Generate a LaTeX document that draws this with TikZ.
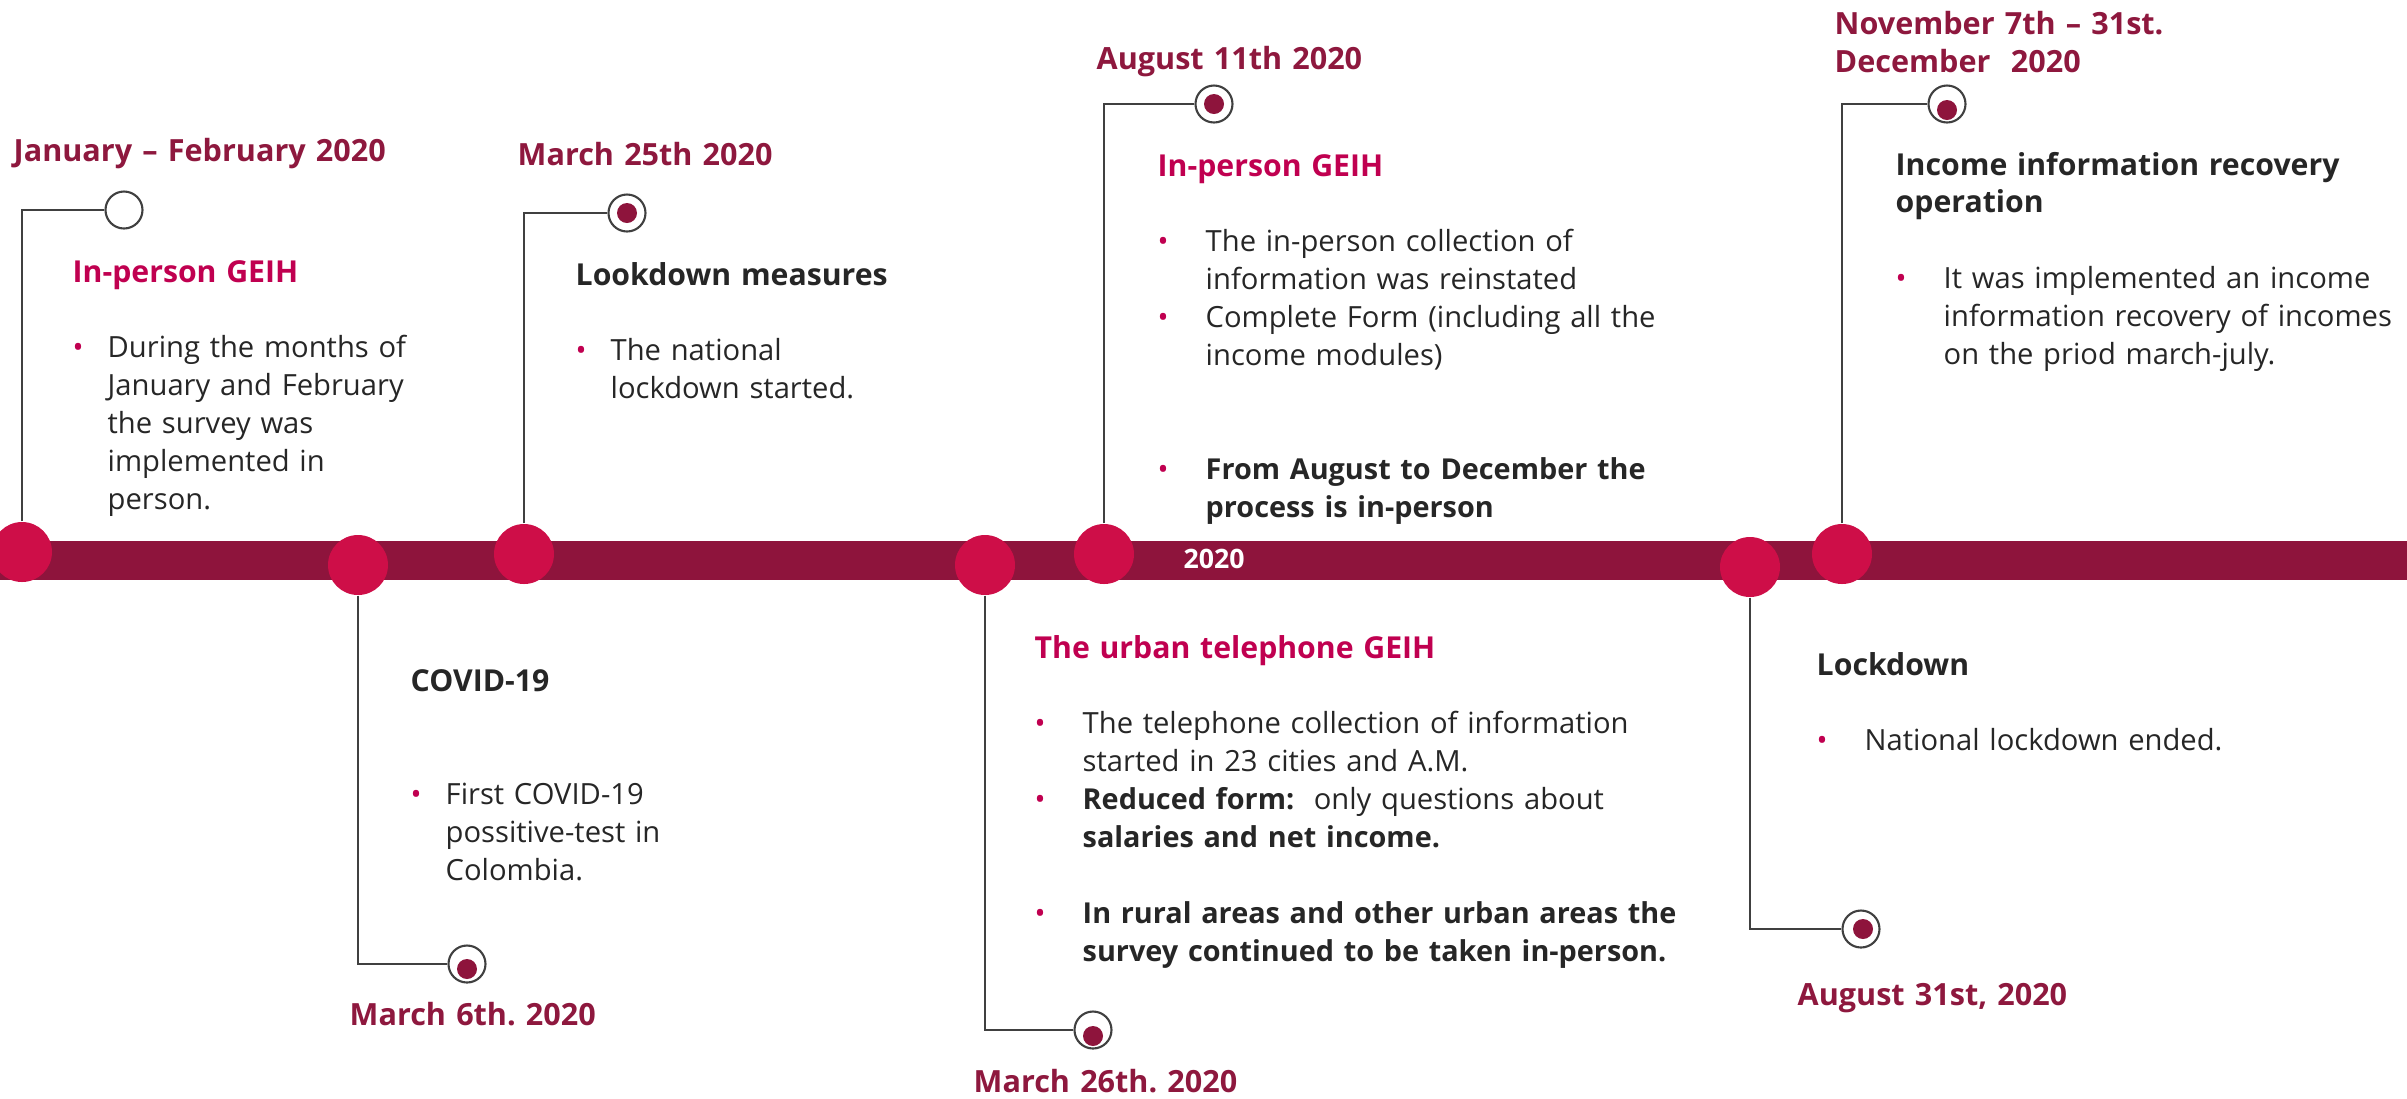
\documentclass[tikz,border=0pt]{standalone}
\usepackage{fontspec}
\setmainfont{Open Sans}
\usetikzlibrary{calc}

\definecolor{barred}{RGB}{142,20,60}
\definecolor{dotred}{RGB}{206,14,72}
\definecolor{datered}{RGB}{142,24,62}
\definecolor{headpink}{RGB}{192,0,80}
\definecolor{bodygray}{RGB}{38,38,38}
\definecolor{linegray}{RGB}{64,64,64}

\frenchspacing
\newcommand{\bodyfont}{\fontsize{8.3}{10.8}\selectfont}
\newcommand{\datefont}{\bfseries\fontsize{8.7}{11}\selectfont}
\newcommand{\hd}[1]{{\bfseries\fontsize{8.6}{10.8}\selectfont #1}}
\newcommand{\bb}[1]{{\bfseries\fontsize{8.2}{10.8}\selectfont #1}}
\newcommand{\gap}{\par\vspace{\baselineskip}}
\newcommand{\nl}{\newline}
% bullet item, continuation lines indented
\newcommand{\bul}[2][3.5mm]{\par{\leftskip=#1\noindent\hskip-#1\makebox[#1][l]{\textcolor{headpink}{\textbullet}}#2\par}}

\begin{document}
\begin{tikzpicture}[x=0.1mm, y=-0.1mm,
  milestone/.style={circle, fill=dotred, minimum size=6mm, inner sep=0pt},
  pin/.style={circle, draw=linegray, line width=0.6pt, fill=white, minimum size=3.7mm, inner sep=0pt},
  pindot/.style={circle, fill=barred, minimum size=2mm, inner sep=0pt},
  stem/.style={draw=linegray, line width=0.8pt},
  datelbl/.style={anchor=base west, inner sep=0pt, text width=60mm, text=datered, font=\datefont},
  event/.style={anchor=base west, inner sep=0pt, text width=75mm, text=bodygray, font=\bodyfont}]
  \useasboundingbox (0,0) rectangle (2407,1098);

  % timeline bar
  \fill[barred] (0,541) rectangle (2407,580);
  \node[text=white, font=\bfseries\fontsize{7.6}{9}\selectfont, inner sep=0pt] (yr) at (1214,559) {2020};

  % milestones on the bar
  \node[milestone] (jan) at (22,552) {};
  \node[milestone] (covid) at (358,565) {};
  \node[milestone] (lock) at (524,554) {};
  \node[milestone] (phone) at (985,565) {};
  \node[milestone] (aug) at (1104,554) {};
  \node[milestone] (end) at (1750,567) {};
  \node[milestone] (rec) at (1842,554) {};

  % pins
  \node[pin] (jan-pin) at (124,210) {};
  \node[pin] (covid-pin) at (467,964) {};
  \node[pindot] at ([yshift=-0.5mm]covid-pin) {};
  \node[pin] (lock-pin) at (627,213) {};
  \node[pindot] at (lock-pin) {};
  \node[pin] (phone-pin) at (1093,1030) {};
  \node[pindot] at ([yshift=-0.6mm]phone-pin) {};
  \node[pin] (aug-pin) at (1214,104) {};
  \node[pindot] at (aug-pin) {};
  \node[pin] (end-pin) at (1861,929) {};
  \node[pindot] at ([xshift=0.2mm]end-pin) {};
  \node[pin] (rec-pin) at (1947,104) {};
  \node[pindot] at ([yshift=-0.6mm]rec-pin) {};

  \draw[stem] (jan) |- (jan-pin);
  \draw[stem] (covid) |- (covid-pin);
  \draw[stem] (lock) |- (lock-pin);
  \draw[stem] (phone) |- (phone-pin);
  \draw[stem] (aug) |- (aug-pin);
  \draw[stem] (end) |- (end-pin);
  \draw[stem] (rec) |- (rec-pin);

  % dates
  \node[datelbl] (jan-date) at (13,161) {January -- February 2020};
  \node[datelbl] (covid-date) at (349,1025) {March 6th. 2020};
  \node[datelbl] (lock-date) at (517,165) {March 25th 2020};
  \node[datelbl] (phone-date) at (973,1092) {March 26th. 2020};
  \node[datelbl] (aug-date) at (1096,69) {August 11th 2020};
  \node[datelbl] (end-date) at (1797,1005) {August 31st, 2020};
  \node[datelbl] (rec-date) at (1834,34) {November 7th -- 31st.\\December\ \ 2020};

  % texts
  \node[event] (jan-txt) at (72,282) {\hd{\color{headpink}In-person GEIH}\gap
    \bul{During the months of\nl January and February\nl the survey was\nl implemented in\nl person.}};
  \node[event] (covid-txt) at (410,691) {\hd{COVID-19}\gap\gap
    \bul{First COVID-19\nl possitive-test in\nl Colombia.}};
  \node[event] (lock-txt) at (575,285) {\hd{Lookdown measures}\gap
    \bul{The national\nl lockdown started.}};
  \node[event] (phone-txt) at (1034,658) {\hd{\color{headpink}The urban telephone GEIH}\gap
    \bul[4.8mm]{The telephone collection of information\nl started in 23 cities and A.M.}
    \bul[4.8mm]{\bb{Reduced form:}~ only questions about\nl \bb{salaries and net income.}}\gap
    \bul[4.8mm]{\bb{In rural areas and other urban areas the}\nl \bb{survey continued to be taken in-person.}}};
  \node[event] (aug-txt) at (1157,176) {\hd{\color{headpink}In-person GEIH}\gap
    \bul[4.8mm]{The in-person collection of\nl information was reinstated}
    \bul[4.8mm]{Complete Form (including all the\nl income modules)}\gap\gap
    \bul[4.8mm]{\bb{From August to December the}\nl \bb{process is in-person}}};
  \node[event] (end-txt) at (1816,675) {\hd{Lockdown}\gap
    \bul[4.8mm]{National lockdown ended.}};
  \node[event] (rec-txt) at (1895,175) {\hd{Income information recovery\\operation}\gap
    \bul[4.8mm]{It was implemented an income\nl information recovery of incomes\nl on the priod march-july.}};
\end{tikzpicture}
\end{document}
